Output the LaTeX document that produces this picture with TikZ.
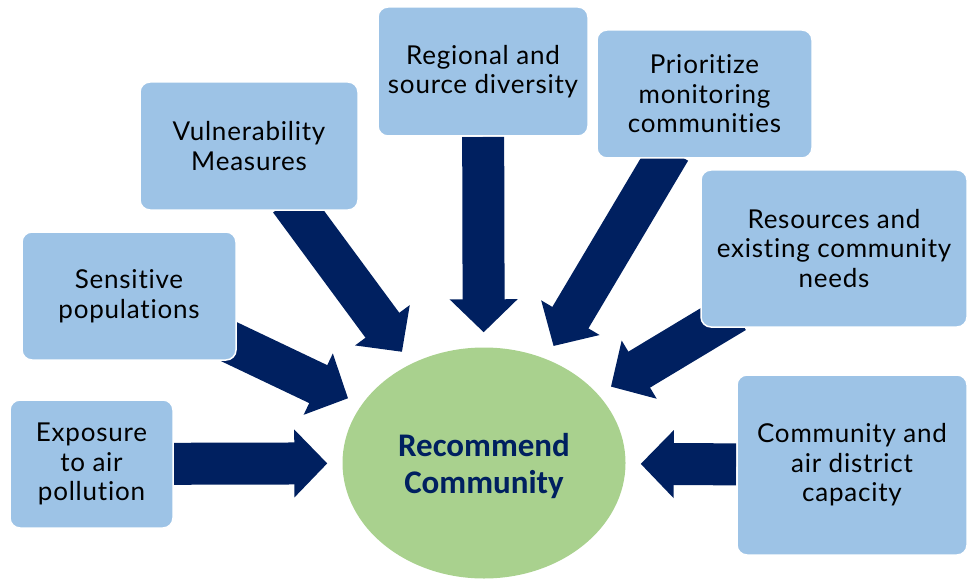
\documentclass[tikz,border=0pt]{standalone}
\usepackage{fontspec}
\setmainfont[LetterSpace=3,Ligatures={NoCommon}]{Lato}
\newfontfamily\calfont{Carlito}
\usetikzlibrary{arrows.meta,backgrounds,shapes.geometric}

\definecolor{boxblue}{HTML}{9DC3E6}
\definecolor{navy}{HTML}{002060}
\definecolor{leafgreen}{HTML}{A9D18E}

\tikzset{
    factor/.style={rectangle, rounded corners=10pt, fill=boxblue, draw=white, line width=1.5pt,
        align=center, inner sep=0pt, font=\fontsize{26}{29.5}\selectfont},
    fatarrow/.style={draw=navy, line width=42pt, -{Triangle[width=66pt,length=33pt]}, shorten >=15pt}
}

\begin{document}
\begin{tikzpicture}[x=1pt,y=-1pt]
\useasboundingbox (0,0) rectangle (968,580);

    \node[ellipse, fill=leafgreen, minimum width=283pt, minimum height=231pt] (rec) at (484,463) {};
    \node[font=\calfont\bfseries\fontsize{33}{37}\selectfont, text=navy, align=center] (rectext) at (484,466) {Recommend\\Community};

    \node[factor, minimum width=163pt, minimum height=128pt] (expo) at (91.5,464) {Exposure\\to air\\pollution};
    \node[factor, minimum width=214pt, minimum height=128pt] (sens) at (129,296) {Sensitive\\populations};
    \node[factor, minimum width=218pt, minimum height=128pt] (vul) at (249,146) {Vulnerability\\Measures};
    \node[factor, minimum width=210pt, minimum height=129pt] (reg) at (483,71.5) {Regional and\\source diversity};
    \node[factor, minimum width=215pt, minimum height=128pt] (pri) at (704.5,94) {Prioritize\\monitoring\\communities};
    \node[factor, minimum width=266pt, minimum height=157pt] (res) at (834,248.5) {Resources and\\existing community\\needs};
    \node[factor, minimum width=230pt, minimum height=180pt] (cap) at (852,465) {Community and\\air district\\capacity};

    % tails sit under the boxes
    \coordinate (tsens) at (215,335);
    \coordinate (tvul) at (290,200);
    \coordinate (tpri) at (670,150);
    \coordinate (tres) at (735,312);

    \begin{scope}[on background layer]
    \draw[fatarrow] (expo) -- (rec);
    \draw[fatarrow] (tsens) -- (rec);
    \draw[fatarrow] (tvul) -- (rec);
    \draw[fatarrow] (reg) -- (rec);
    \draw[fatarrow] (tpri) -- (rec);
    \draw[fatarrow] (tres) -- (rec);
    \draw[fatarrow] (cap) -- (rec);
    \end{scope}
\end{tikzpicture}
\end{document}
